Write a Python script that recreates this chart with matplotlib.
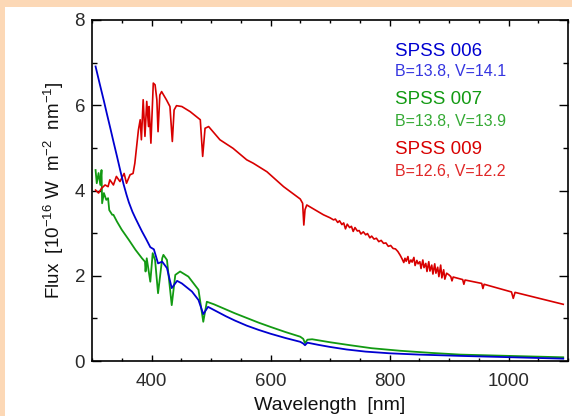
import matplotlib
matplotlib.use("Agg")
import matplotlib.pyplot as plt
from matplotlib.patches import Rectangle
from matplotlib.ticker import MultipleLocator

# ---------------- data ----------------
wl_006 = [306, 313, 320, 325, 331, 336, 342, 347, 353, 358, 362, 368, 373, 379, 384,
          391, 398, 404, 411, 418, 426, 434, 443, 451, 468, 479, 487, 495, 510, 525,
          540, 560, 580, 600, 625, 650, 655, 658, 662, 680, 700, 728, 760, 801, 850,
          919, 1000, 1092]
fx_006 = [6.91, 6.50, 6.10, 5.80, 5.45, 5.15, 4.80, 4.50, 4.15, 3.90, 3.72, 3.50, 3.35, 3.18, 3.04,
          2.86, 2.67, 2.62, 2.29, 2.33, 2.18, 1.71, 1.88, 1.82, 1.63, 1.43, 1.10, 1.27, 1.16, 1.05,
          0.95, 0.83, 0.73, 0.64, 0.54, 0.45, 0.41, 0.37, 0.43, 0.38, 0.33, 0.27, 0.22, 0.18, 0.15,
          0.12, 0.09, 0.055]

wl_007 = [306, 308, 311, 314, 316, 317, 320, 324, 327, 329, 334, 336, 342, 350, 362,
          373, 384, 389, 390, 392, 398, 402, 406, 411, 418, 420, 426, 434, 440, 448,
          462, 479, 487, 493, 505, 520, 540, 560, 580, 600, 625, 650, 655, 658, 662,
          670, 700, 734, 770, 818, 870, 919, 1000, 1092]
fx_007 = [4.48, 4.17, 4.41, 4.13, 4.48, 3.70, 3.94, 3.78, 3.82, 3.54, 3.43, 3.43, 3.27, 3.08, 2.84,
          2.61, 2.41, 2.33, 2.10, 2.41, 1.86, 2.53, 2.37, 1.59, 2.41, 2.49, 2.37, 1.31, 2.02, 2.10,
          1.98, 1.67, 0.92, 1.39, 1.33, 1.24, 1.12, 1.01, 0.90, 0.80, 0.68, 0.57, 0.52, 0.42, 0.50,
          0.51, 0.44, 0.37, 0.30, 0.24, 0.19, 0.15, 0.12, 0.087]

wl_009 = [306, 311, 316, 322, 327, 330, 336, 341, 347, 354, 358, 364, 369, 372, 375,
          378, 381, 383, 386, 389, 392, 395, 396, 399, 403, 406, 409, 411, 414, 417,
          425, 431, 435, 438, 442, 451, 465, 482, 486, 490, 496, 515, 537, 560, 571,
          594, 622, 650, 654, 656, 658, 661, 689,
          700, 706, 709, 713, 716, 720, 723, 726, 729, 733, 736, 739, 742, 746, 749,
          752, 756, 760, 763, 767, 770, 774, 778, 782, 786, 790, 794, 798, 802, 806,
          810, 814, 818, 821, 824, 826, 828, 831, 833, 836, 838, 841, 843, 846, 848,
          851, 853, 856, 858, 861, 863, 866, 868, 871, 873, 876, 878, 881, 883, 886,
          888, 891, 893, 896, 900, 903, 905, 907, 923, 925,
          927, 955, 957, 959, 1005, 1008, 1011, 1092]
fx_009 = [4.01, 3.94, 4.05, 4.13, 4.09, 4.25, 4.13, 4.33, 4.21, 4.40, 4.17, 4.37, 4.40, 4.64, 5.03,
          5.42, 5.66, 5.19, 6.13, 5.27, 6.09, 5.50, 5.97, 5.11, 6.52, 6.48, 6.13, 5.38, 6.24, 6.32,
          6.13, 5.97, 5.15, 5.89, 5.99, 5.97, 5.85, 5.66, 4.80, 5.46, 5.50, 5.19, 4.99, 4.72, 4.64,
          4.44, 4.09, 3.80, 3.70, 3.19, 3.55, 3.66, 3.43,
          3.36, 3.31, 3.33, 3.25, 3.29, 3.20, 3.24, 3.10, 3.21, 3.13, 3.16, 3.04, 3.13, 3.05, 3.06,
          2.98, 3.03, 2.96, 2.99, 2.89, 2.93, 2.86, 2.88, 2.80, 2.83, 2.76, 2.77, 2.69, 2.71, 2.64,
          2.63, 2.57, 2.48, 2.40, 2.31, 2.41, 2.34, 2.45, 2.29, 2.37, 2.32, 2.43, 2.24, 2.36, 2.28,
          2.33, 2.17, 2.37, 2.19, 2.29, 2.10, 2.33, 2.11, 2.25, 2.04, 2.28, 2.06, 2.20, 1.98, 2.25,
          1.95, 2.14, 1.92, 2.06, 2.02, 1.98, 1.88, 1.97, 1.91, 1.80,
          1.90, 1.82, 1.70, 1.80, 1.62, 1.47, 1.61, 1.33]

names = ["SPSS 006", "SPSS 007", "SPSS 009"]
mags = ["B=13.8, V=14.1", "B=13.8, V=13.9", "B=12.6, V=12.2"]
colors = ["#0000D0", "#129A12", "#D80000"]
sub_colors = ["#3535E0", "#35AA35", "#E02828"]

xticks = [400, 600, 800, 1000]
yticks = [0, 2, 4, 6, 8]

font = "Liberation Sans"
plt.rcParams["mathtext.fontset"] = "custom"
plt.rcParams["mathtext.rm"] = font
plt.rcParams["mathtext.it"] = font

# ---------------- figure ----------------
fig = plt.figure(figsize=(5.72, 4.16), dpi=100, facecolor="#FCD8B6")
fig.patches.append(Rectangle((5 / 572, 0), 1, (416 - 7) / 416, transform=fig.transFigure,
                             facecolor="white", edgecolor="none", zorder=-10))
ax = fig.add_axes([92 / 572, 1 - 361 / 416, (568 - 92) / 572, (361 - 20) / 416])
ax.set_zorder(5)
ax.set_facecolor("white")

ax.plot(wl_006, fx_006, color=colors[0], lw=1.3, zorder=3)
ax.plot(wl_007, fx_007, color=colors[1], lw=1.3, zorder=2)
ax.plot(wl_009, fx_009, color=colors[2], lw=1.2, zorder=2)

ax.set_xlim(300, 1100)
ax.set_ylim(0, 8)
ax.set_xticks(xticks)
ax.set_yticks(yticks)
ax.xaxis.set_minor_locator(MultipleLocator(50))
ax.yaxis.set_minor_locator(MultipleLocator(1))

ax.tick_params(axis="x", which="major", direction="in", length=4.5, width=1.0,
               top=True, labelsize=13.5, pad=9, colors="black", labelcolor="#2a2a2a")
ax.tick_params(axis="x", which="minor", direction="in", length=2.5, width=1.0, top=True)
ax.tick_params(axis="y", which="major", direction="in", length=6.5, width=1.0,
               right=True, labelsize=13.5, pad=5, colors="black", labelcolor="#2a2a2a")
ax.tick_params(axis="y", which="minor", direction="in", length=3.6, width=1.0, right=True)
for lab in ax.get_xticklabels() + ax.get_yticklabels():
    lab.set_fontfamily(font)
for s in ax.spines.values():
    s.set_linewidth(1.2)

ax.set_xlabel("Wavelength  [nm]", fontsize=14, fontfamily=font, labelpad=5,
              color="#111111")
ax.set_ylabel(r"Flux  [10$^{-16}$ W  m$^{-2}$  nm$^{-1}$]", fontsize=13.5, fontfamily=font,
              labelpad=6, color="#111111")

ys_name = [52, 100, 150]
ys_mag = [71, 121, 171]
for i in range(3):
    fig.text(395 / 572, 1 - ys_name[i] / 416, names[i],
             fontsize=13.5, fontfamily=font, color=colors[i], va="center", ha="left", zorder=10)
    fig.text(395 / 572, 1 - ys_mag[i] / 416, mags[i],
             fontsize=11.5, fontfamily=font, color=sub_colors[i], va="center", ha="left", zorder=10)

fig.savefig("out.png", dpi=100, facecolor=fig.get_facecolor())
